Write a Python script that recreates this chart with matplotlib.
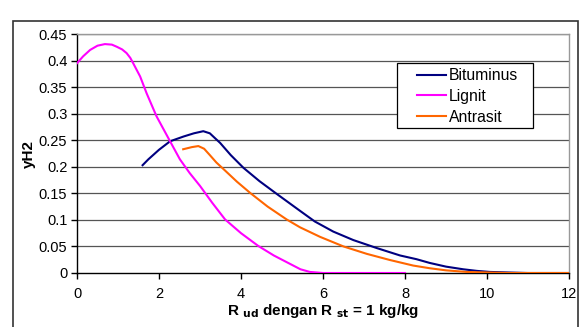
import matplotlib
matplotlib.use("Agg")
import matplotlib.pyplot as plt
from matplotlib.patches import Rectangle

plt.rcParams['font.family'] = ['Liberation Sans', 'DejaVu Sans']

# Bituminus
bit_x = [1.6, 1.74, 2.0, 2.27, 2.6, 2.85, 3.08, 3.24, 3.35, 3.49, 3.75, 4.06, 4.45, 4.87, 5.44, 5.8, 6.25,
         6.74, 7.31, 7.88, 8.28, 8.6, 9.0, 9.42, 9.75, 10.07, 10.5, 11.0, 12.0]
bit_y = [0.203, 0.214, 0.232, 0.248, 0.257, 0.263, 0.267, 0.263, 0.255, 0.245, 0.222, 0.198, 0.173, 0.149, 0.117, 0.097, 0.078,
         0.062, 0.047, 0.033, 0.026, 0.019, 0.012, 0.007, 0.004, 0.002, 0.001, 0.0, 0.0]

# Lignit
lig_x = [0.0, 0.15, 0.32, 0.5, 0.68, 0.85, 0.97, 1.1, 1.21, 1.3, 1.37, 1.54, 1.7, 1.94, 2.27, 2.51, 2.75, 3.0, 3.3,
         3.61, 4.0, 4.42, 4.8, 5.2, 5.45, 5.68, 6.0, 7.0, 8.0]
lig_y = [0.395, 0.408, 0.42, 0.428, 0.431, 0.43, 0.426, 0.421, 0.414, 0.405, 0.395, 0.37, 0.338, 0.295, 0.248, 0.214, 0.188, 0.164, 0.132,
         0.101, 0.075, 0.051, 0.033, 0.017, 0.007, 0.002, 0.0, 0.0, 0.0]

# Antrasit
ant_x = [2.59, 2.8, 2.96, 3.1, 3.24, 3.4, 3.61, 3.9, 4.22, 4.65, 5.11, 5.44, 5.93, 6.5, 7.07, 7.63,
         8.2, 8.6, 9.0, 9.5, 10.0, 10.5, 12.0]
ant_y = [0.233, 0.237, 0.239, 0.234, 0.222, 0.208, 0.193, 0.172, 0.151, 0.125, 0.101, 0.086, 0.068, 0.05, 0.036, 0.0245,
         0.014, 0.009, 0.005, 0.002, 0.001, 0.0, 0.0]

x_ticks = [0, 2, 4, 6, 8, 10, 12]
y_ticks = [0, 0.05, 0.1, 0.15, 0.2, 0.25, 0.3, 0.35, 0.4, 0.45]
y_tick_labels = ['0', '0.05', '0.1', '0.15', '0.2', '0.25', '0.3', '0.35', '0.4', '0.45']

W, H = 582, 327
fig = plt.figure(figsize=(W/100, H/100), dpi=100)
fig.patch.set_facecolor('white')
# outer chart frame
fig.patches.append(Rectangle((13/W, -0.05), (578-13)/W, 1 - 21/H + 0.05,
                             transform=fig.transFigure, fill=False,
                             edgecolor='#333333', linewidth=1.2))

ax = fig.add_axes([77/W, 1 - 273/H, (569-77)/W, (273-34)/H])
ax.set_xlim(0, 12)
ax.set_ylim(0, 0.45)

for yv in y_ticks[1:]:
    ax.axhline(yv, color='#555555', linewidth=0.9, zorder=1)

ax.plot(bit_x, bit_y, color='#000080', linewidth=1.5, label='Bituminus', zorder=3)
ax.plot(lig_x, lig_y, color='#FF00FF', linewidth=1.5, label='Lignit', zorder=3)
ax.plot(ant_x, ant_y, color='#FF6600', linewidth=1.5, label='Antrasit', zorder=3)

ax.set_xticks(x_ticks)
ax.set_yticks(y_ticks)
ax.set_yticklabels(y_tick_labels)
ax.tick_params(axis='both', direction='out', length=4, width=1, labelsize=10.5, colors='black', pad=3)
ax.tick_params(axis='x', pad=6)

for s in ['top', 'right']:
    ax.spines[s].set_color('#999999')
    ax.spines[s].set_linewidth(1)
for s in ['left', 'bottom']:
    ax.spines[s].set_color('black')
    ax.spines[s].set_linewidth(1)

ax.set_ylabel('yH2', fontsize=11, fontweight='bold', labelpad=2)
ax.set_xlabel(r'R $_{\mathregular{\mathbf{ud}}}$ dengan R $_{\mathregular{\mathbf{st}}}$ = 1 kg/kg',
              fontsize=11, fontweight='bold', labelpad=1)

# legend box
box = Rectangle((397/W, 1 - 128/H), (533-397)/W, (128-63)/H, transform=fig.transFigure,
                facecolor='white', edgecolor='black', linewidth=0.9, zorder=4)
ax.add_artist(box)
box.set_clip_on(False)

leg = ax.legend(loc='upper left', bbox_to_anchor=(417/W, 1 - 68/H), bbox_transform=fig.transFigure,
                fontsize=11.3, frameon=False, borderpad=0,
                handlelength=1.85, handletextpad=0.2, labelspacing=0.38,
                borderaxespad=0)
leg.set_zorder(5)

fig.savefig('out.png', dpi=100, facecolor='white')
